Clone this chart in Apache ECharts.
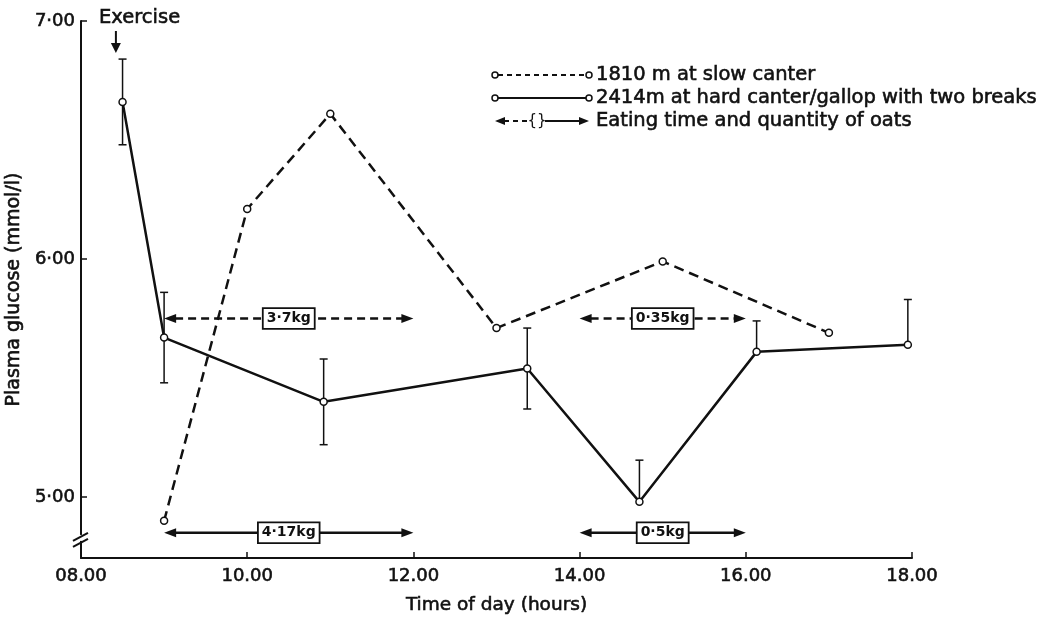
<!DOCTYPE html>
<html><head><meta charset="utf-8">
<script src="https://cdn.jsdelivr.net/npm/echarts@6/dist/echarts.min.js"></script>
<style>html,body{margin:0;padding:0;background:#fff}#c{width:1049px;height:617px}</style>
</head><body><div id="c"></div>
<script>
// ---- data ----
const xTicks = [8, 10, 12, 14, 16, 18];
const yTicks = [5, 6, 7];
const slowTimes   = [9, 10, 11, 13, 15, 17];
const slowGlucose = [4.90, 6.21, 6.61, 5.71, 5.99, 5.69];
const hardTimes   = [8.5, 9.0, 10.92, 13.37, 14.72, 16.13, 17.95];
const hardGlucose = [6.66, 5.67, 5.40, 5.54, 4.98, 5.61, 5.64];
const hardSem     = [0.18, 0.19, 0.18, 0.17, 0.175, 0.13, 0.19];
const hardSemBoth = [true, true, true, true, false, false, false];
const feedStart = [9, 14, 9, 14];
const feedEnd   = [12, 16, 12, 16];
const feedQty   = ['3·7kg', '0·35kg', '4·17kg', '0·5kg'];
const feedGroup = ['slow', 'slow', 'hard', 'hard'];
const exerciseTime = 8.42;

// ---- layout / style ----
const INK = '#111';
const FONT = 'DejaVu Sans';
const HEAVY = { textBorderColor: INK, textBorderWidth: 0.6 };
const feedLevel = { slow: 5.75, hard: 4.85 };
const breakLevel = 4.82;

const chart = echarts.init(document.getElementById('c'), null, { renderer: 'canvas' });

const option = {
  backgroundColor: '#fff',
  animation: false,
  grid: { left: 81, right: 137, top: 21, bottom: 59, containLabel: false, outerBoundsMode: 'none' },
  xAxis: {
    type: 'value', min: 8, max: 18, interval: 2,
    axisLine: { onZero: false, lineStyle: { color: INK, width: 2 } },
    axisTick: { inside: true, length: 6, lineStyle: { color: INK, width: 1.5 } },
    axisLabel: Object.assign({ color: INK, fontFamily: FONT, fontSize: 18, margin: 9,
      formatter: v => (v < 10 ? '0' : '') + v + '.00' }, HEAVY),
    splitLine: { show: false },
    name: 'Time of day (hours)', nameLocation: 'middle', nameGap: 38,
    nameTextStyle: Object.assign({ color: INK, fontFamily: FONT, fontSize: 18.5 }, HEAVY)
  },
  yAxis: {
    type: 'value', min: 4.744, max: 7,
    axisLine: { onZero: false, lineStyle: { color: INK, width: 2 } },
    axisTick: { inside: true, length: 6, customValues: yTicks, lineStyle: { color: INK, width: 1.5 } },
    axisLabel: Object.assign({ customValues: yTicks, color: INK, fontFamily: FONT, fontSize: 18, margin: 6,
      formatter: v => Number(v).toFixed(2).replace('.', '·') }, HEAVY),
    splitLine: { show: false },
    name: 'Plasma glucose (mmol/l)', nameLocation: 'middle', nameGap: 54, nameRotate: 90,
    nameTextStyle: Object.assign({ color: INK, fontFamily: FONT, fontSize: 19 }, HEAVY)
  },
  series: [
    {
      type: 'line', name: '1810 m at slow canter',
      data: slowTimes.map((t, i) => [t, slowGlucose[i]]),
      lineStyle: { color: INK, width: 2.5, type: [10, 6] },
      symbol: 'circle', symbolSize: 7, z: 4,
      itemStyle: { color: '#fff', borderColor: INK, borderWidth: 1.5 }
    },
    {
      type: 'line', name: '2414m at hard canter/gallop with two breaks',
      data: hardTimes.map((t, i) => [t, hardGlucose[i]]),
      lineStyle: { color: INK, width: 2.5 },
      symbol: 'circle', symbolSize: 7, z: 4,
      itemStyle: { color: '#fff', borderColor: INK, borderWidth: 1.5 }
    },
    {
      type: 'custom', name: 'sem', z: 3,
      data: hardTimes.map((t, i) => [t, hardGlucose[i], hardSem[i]]),
      encode: { x: 0, y: 1 },
      renderItem: (params, api) => {
        const i = params.dataIndex;
        const x = api.value(0), y = api.value(1), e = api.value(2);
        const top = api.coord([x, y + e]);
        const mid = api.coord([x, y]);
        const bot = hardSemBoth[i] ? api.coord([x, y - e]) : mid;
        const cw = 4;
        const ch = [
          { type: 'line', shape: { x1: top[0], y1: top[1], x2: bot[0], y2: bot[1] }, style: { stroke: INK, lineWidth: 1.5 } },
          { type: 'line', shape: { x1: top[0] - cw, y1: top[1], x2: top[0] + cw, y2: top[1] }, style: { stroke: INK, lineWidth: 1.5 } }
        ];
        if (hardSemBoth[i]) ch.push({ type: 'line', shape: { x1: bot[0] - cw, y1: bot[1], x2: bot[0] + cw, y2: bot[1] }, style: { stroke: INK, lineWidth: 1.5 } });
        return { type: 'group', children: ch };
      }
    },
    {
      type: 'custom', name: 'feeding', z: 5,
      data: feedStart.map((s, i) => [s, feedEnd[i], feedLevel[feedGroup[i]]]),
      encode: { x: [0, 1], y: 2 },
      renderItem: (params, api) => {
        const i = params.dataIndex;
        const p0 = api.coord([api.value(0), api.value(2)]);
        const p1 = api.coord([api.value(1), api.value(2)]);
        const dashed = feedGroup[i] === 'slow';
        const ah = 12, aw = 4.5;
        return { type: 'group', children: [
          { type: 'line', shape: { x1: p0[0] + ah - 1, y1: p0[1], x2: p1[0] - ah + 1, y2: p1[1] },
            style: { stroke: INK, lineWidth: 2.5, lineDash: dashed ? [8, 5] : null } },
          { type: 'polygon', shape: { points: [[p0[0], p0[1]], [p0[0] + ah, p0[1] - aw], [p0[0] + ah, p0[1] + aw]] }, style: { fill: INK } },
          { type: 'polygon', shape: { points: [[p1[0], p1[1]], [p1[0] - ah, p1[1] - aw], [p1[0] - ah, p1[1] + aw]] }, style: { fill: INK } },
          { type: 'text', x: (p0[0] + p1[0]) / 2, y: p0[1],
            style: { text: feedQty[i], align: 'center', verticalAlign: 'middle',
              font: 'bold 14px "' + FONT + '"', fill: INK, backgroundColor: '#fff',
              borderColor: INK, borderWidth: 1.8, padding: [3, 3, 2, 3] } }
        ] };
      }
    }
  ]
};
chart.setOption(option);

// ---- annotations (legend, exercise arrow, axis break) ----
const ex = chart.convertToPixel({ gridIndex: 0 }, [exerciseTime, 7]);
const br = chart.convertToPixel({ gridIndex: 0 }, [8, breakLevel]);
const F19 = '19.5px "' + FONT + '"';
const txt = (x, y, s) => ({ type: 'text', x, y, style: Object.assign({ text: s, font: F19, fill: INK, verticalAlign: 'middle', stroke: INK, lineWidth: 0.6 }) });
const ln = (x1, y1, x2, y2, dash, w) => ({ type: 'line', shape: { x1, y1, x2, y2 }, style: { stroke: INK, lineWidth: w || 2, lineDash: dash || null } });
const circ = (x, y) => ({ type: 'circle', shape: { cx: x, cy: y, r: 3 }, style: { fill: '#fff', stroke: INK, lineWidth: 1.5 } });
const L0 = 495, L1 = 589, TX = 596;
const rows = [75, 98, 121];
const graphic = [
  // legend
  ln(L0 + 3, rows[0], L1 - 3, rows[0], [5, 4], 1.8), circ(L0, rows[0]), circ(L1, rows[0]), txt(TX, rows[0], '1810 m at slow canter'),
  ln(L0 + 3, rows[1], L1 - 3, rows[1], null, 2), circ(L0, rows[1]), circ(L1, rows[1]), txt(TX, rows[1], '2414m at hard canter/gallop with two breaks'),
  { type: 'polygon', shape: { points: [[L0, rows[2]], [L0 + 10, rows[2] - 4], [L0 + 10, rows[2] + 4]] }, style: { fill: INK } },
  ln(L0 + 9, rows[2], 528, rows[2], [5, 4], 2),
  { type: 'text', x: 537, y: rows[2], style: { text: '{}', font: '15px "' + FONT + '"', fill: INK, align: 'center', verticalAlign: 'middle' } },
  ln(545, rows[2], L1 - 9, rows[2], null, 2),
  { type: 'polygon', shape: { points: [[L1, rows[2]], [L1 - 10, rows[2] - 4], [L1 - 10, rows[2] + 4]] }, style: { fill: INK } },
  txt(TX, rows[2], 'Eating time and quantity of oats'),
  // exercise
  txt(99, 18, 'Exercise'),
  ln(ex[0], 31, ex[0], 45, null, 2),
  { type: 'polygon', shape: { points: [[ex[0] - 5, 43], [ex[0] + 5, 43], [ex[0], 53]] }, style: { fill: INK } },
  // axis break
  { type: 'rect', shape: { x: br[0] - 3, y: br[1] - 5, width: 6, height: 6 }, style: { fill: '#fff' }, z: 100 },
  { type: 'line', shape: { x1: br[0] - 8, y1: br[1] + 1, x2: br[0] + 7, y2: br[1] - 7 }, style: { stroke: INK, lineWidth: 2 }, z: 101 },
  { type: 'line', shape: { x1: br[0] - 8, y1: br[1] + 7, x2: br[0] + 7, y2: br[1] - 1 }, style: { stroke: INK, lineWidth: 2 }, z: 101 }
];
chart.setOption({ graphic });
</script>
</body></html>
